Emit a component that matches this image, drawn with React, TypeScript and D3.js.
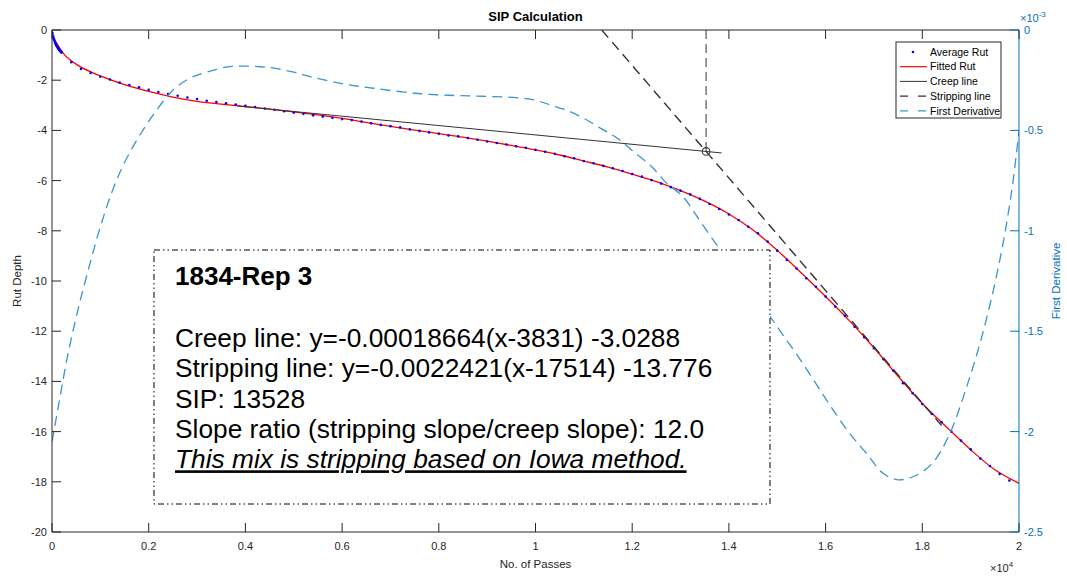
import React from 'react';
import * as d3 from 'd3';

const W = 1067;
const H = 576;

// ---- axis ticks ----
const xTicks = [0, 2000, 4000, 6000, 8000, 10000, 12000, 14000, 16000, 18000, 20000];
const xTickLabels = ['0', '0.2', '0.4', '0.6', '0.8', '1', '1.2', '1.4', '1.6', '1.8', '2'];
const yLeftTicks = [0, -2, -4, -6, -8, -10, -12, -14, -16, -18, -20];
const yRightTicks = [0, -0.5, -1, -1.5, -2, -2.5];
const yRightTickLabels = ['0', '-0.5', '-1', '-1.5', '-2', '-2.5'];

// ---- data: [passes, rut depth] ----
const avgRut: [number, number][] = [
  [0, 0], [10, -0.12], [20, -0.22], [30, -0.3], [40, -0.37], [50, -0.43], [60, -0.48], [70, -0.53],
  [80, -0.57], [90, -0.61], [100, -0.65], [110, -0.68], [120, -0.71], [130, -0.74], [140, -0.77],
  [150, -0.79], [160, -0.82], [170, -0.84], [180, -0.86], [190, -0.88], [200, -0.9],
  [400, -1.28], [600, -1.55], [800, -1.71], [1000, -1.86], [1200, -1.97], [1400, -2.09], [1600, -2.19],
  [1800, -2.28], [2000, -2.38], [2200, -2.47], [2400, -2.55], [2600, -2.62], [2800, -2.69], [3000, -2.75],
  [3200, -2.82], [3400, -2.87], [3600, -2.92], [3800, -2.97], [4000, -3.02], [4200, -3.07], [4400, -3.13],
  [4600, -3.18], [4800, -3.24], [5000, -3.29], [5200, -3.34], [5400, -3.4], [5600, -3.45], [5800, -3.5],
  [6000, -3.55], [6200, -3.59], [6400, -3.65], [6600, -3.72], [6800, -3.78], [7000, -3.83], [7200, -3.88],
  [7400, -3.96], [7600, -4.02], [7800, -4.08], [8000, -4.13], [8200, -4.2], [8400, -4.24], [8600, -4.3],
  [8800, -4.37], [9000, -4.44], [9200, -4.5], [9400, -4.56], [9600, -4.63], [9800, -4.69], [10000, -4.77],
  [10200, -4.85], [10400, -4.93], [10600, -5.03], [10800, -5.11], [11000, -5.22], [11200, -5.31],
  [11400, -5.41], [11600, -5.51], [11800, -5.62], [12000, -5.74], [12200, -5.84], [12400, -5.98],
  [12600, -6.12], [12800, -6.26], [13000, -6.4], [13200, -6.55], [13400, -6.73], [13600, -6.93],
  [13800, -7.13], [14000, -7.35], [14200, -7.57], [14400, -7.84], [14600, -8.1], [14800, -8.43],
  [15000, -8.79], [15200, -9.16], [15400, -9.5], [15600, -9.89], [15800, -10.23], [16000, -10.62],
  [16200, -11.02], [16400, -11.39], [16600, -11.82], [16800, -12.24], [17000, -12.68], [17200, -13.12],
  [17400, -13.57], [17600, -14.07], [17800, -14.47], [18000, -14.9], [18200, -15.3], [18400, -15.63],
  [18600, -16.0], [18800, -16.36], [19000, -16.71], [19200, -17.07], [19400, -17.37], [19600, -17.69],
  [19800, -17.95],
];

const fittedRut: [number, number][] = [
  [0, -0.2], [100, -0.53], [230, -0.92], [370, -1.19], [580, -1.46], [790, -1.66], [1000, -1.83],
  [1200, -1.98], [1500, -2.18], [2000, -2.45], [2500, -2.67], [3000, -2.84], [3500, -2.95], [4000, -3.05],
  [4500, -3.15], [5000, -3.26], [5500, -3.38], [6000, -3.52], [6500, -3.68], [7000, -3.84], [7500, -3.99],
  [8000, -4.13], [8500, -4.27], [9000, -4.43], [9500, -4.6], [10000, -4.78], [10500, -4.98], [11000, -5.22],
  [11500, -5.46], [12000, -5.74], [12500, -6.04], [13000, -6.4], [13500, -6.82], [14000, -7.33],
  [14500, -7.97], [15000, -8.78], [15500, -9.68], [16000, -10.62], [16500, -11.6], [17000, -12.66],
  [17500, -13.8], [18000, -14.88], [18500, -15.82], [19000, -16.72], [19500, -17.52], [20000, -18.06],
];

// first derivative, in units of 1e-3
const firstDeriv: [number, number][] = [
  [0, -2.05], [150, -1.85], [300, -1.65], [500, -1.43], [700, -1.24], [1000, -0.98], [1250, -0.8],
  [1500, -0.66], [1800, -0.53], [2100, -0.42], [2500, -0.3], [2850, -0.24], [3200, -0.21], [3600, -0.185],
  [3900, -0.18], [4300, -0.183], [4600, -0.19], [5000, -0.21], [5300, -0.23], [5950, -0.265], [6650, -0.29],
  [7500, -0.315], [8200, -0.325], [8900, -0.33], [9600, -0.337], [10000, -0.35], [10300, -0.373],
  [10650, -0.4], [11000, -0.44], [11350, -0.49], [11700, -0.54], [12000, -0.6], [12400, -0.68],
  [12700, -0.76], [13050, -0.83], [13400, -0.95], [13750, -1.07], [14100, -1.18], [14450, -1.3],
  [14800, -1.41], [15150, -1.53], [15500, -1.65], [15850, -1.78], [16150, -1.89], [16500, -2.01],
  [16850, -2.11], [17200, -2.21], [17500, -2.24], [17850, -2.22], [18200, -2.16], [18550, -2.02],
  [18900, -1.79], [19250, -1.51], [19600, -1.15], [19850, -0.8], [20000, -0.5],
];

// line equations from the annotation
const creepSlope = -0.00018664;
const creepX0 = 3831;
const creepY0 = -3.0288;
const creepRange = [3831, 13850];
const stripSlope = -0.0022421;
const stripX0 = 17514;
const stripY0 = -13.776;
const stripRange = [11370, 18400];
const sipX = 13528;

const annoTitle = '1834-Rep 3';
const annoLines = [
  'Creep line: y=-0.00018664(x-3831) -3.0288',
  'Stripping line: y=-0.0022421(x-17514) -13.776',
  'SIP: 13528',
  'Slope ratio (stripping slope/creep slope): 12.0',
];
const annoConclusion = 'This mix is stripping based on Iowa method.';

const legendItems = ['Average Rut', 'Fitted Rut', 'Creep line', 'Stripping line', 'First Derivative'];

const FONT = '"Liberation Sans", Arial, Helvetica, sans-serif';
const AX = '#262626';
const BLUE_AX = '#0072BD';
const BLUE_LINE = '#3d95c9';

export default function App() {
  const left = 52, right = 1019, top = 30, bottom = 532;
  const x = d3.scaleLinear().domain([0, 20000]).range([left, right]);
  const yL = d3.scaleLinear().domain([-20, 0]).range([bottom, top]);
  const yR = d3.scaleLinear().domain([-2.5, 0]).range([bottom, top]);

  const lineL = d3.line<[number, number]>().x(d => x(d[0])).y(d => yL(d[1])).curve(d3.curveCatmullRom);
  const lineR = d3.line<[number, number]>().x(d => x(d[0])).y(d => yR(d[1])).curve(d3.curveCatmullRom);
  const straight = d3.line<[number, number]>().x(d => x(d[0])).y(d => yL(d[1]));

  const creepPts: [number, number][] = creepRange.map(v => [v, creepSlope * (v - creepX0) + creepY0]);
  const stripPts: [number, number][] = stripRange.map(v => [v, stripSlope * (v - stripX0) + stripY0]);
  const sipY = creepSlope * (sipX - creepX0) + creepY0;

  const tl = 9;
  const lgX = 896, lgY = 42, lgW = 105, lgH = 76;
  const lgRow = (i: number) => lgY + 10 + i * 14.7;

  return (
    <svg width={W} height={H} style={{ position: 'absolute', left: 0, top: 0, background: '#fff' }} fontFamily={FONT}>
      <rect x={0} y={0} width={W} height={H} fill="#fff" />
      <defs>
        <clipPath id="plot">
          <rect x={left} y={top} width={right - left} height={bottom - top} />
        </clipPath>
      </defs>

      {/* title */}
      <text x={(left + right) / 2} y={21} textAnchor="middle" fontSize={13} fontWeight="bold" fill="#000">SIP Calculation</text>

      <g clipPath="url(#plot)">
        {/* fitted */}
        <path d={lineL(fittedRut) || ''} fill="none" stroke="#ff0000" strokeWidth={1.3} />
        {/* avg dots */}
        {avgRut.map((d, i) => (
          <circle key={i} cx={x(d[0])} cy={yL(d[1])} r={1.3} fill="#0000ff" />
        ))}
        {/* creep line */}
        <path d={straight(creepPts) || ''} fill="none" stroke="#333" strokeWidth={1} />
        {/* stripping line */}
        <path d={straight(stripPts) || ''} fill="none" stroke="#333" strokeWidth={1.4} strokeDasharray="10,6" />
        {/* SIP vertical */}
        <line x1={x(sipX)} x2={x(sipX)} y1={yL(0)} y2={yL(sipY)} stroke="#333" strokeWidth={1} strokeDasharray="9,5" />
        <circle cx={x(sipX)} cy={yL(sipY)} r={3.8} fill="none" stroke="#333" strokeWidth={1.1} />
        {/* derivative */}
        <path d={lineR(firstDeriv) || ''} fill="none" stroke={BLUE_LINE} strokeWidth={1.3} strokeDasharray="10,6" />
      </g>

      {/* axes box */}
      <line x1={left} x2={right} y1={top} y2={top} stroke={AX} strokeWidth={1} />
      <line x1={left} x2={right} y1={bottom} y2={bottom} stroke={AX} strokeWidth={1} />
      <line x1={left} x2={left} y1={top} y2={bottom} stroke={AX} strokeWidth={1} />
      <line x1={right} x2={right} y1={top} y2={bottom} stroke={BLUE_AX} strokeWidth={1} />

      {/* x ticks */}
      {xTicks.map((t, i) => (
        <g key={'x' + i}>
          <line x1={x(t)} x2={x(t)} y1={bottom} y2={bottom - tl} stroke={AX} />
          <line x1={x(t)} x2={x(t)} y1={top} y2={top + tl} stroke={AX} />
          <text x={x(t)} y={bottom + 18} textAnchor="middle" fontSize={11} fill={AX}>{xTickLabels[i]}</text>
        </g>
      ))}
      <text x={990} y={572} fontSize={11} fill={AX}>×10<tspan dy={-5} fontSize={8}>4</tspan></text>
      <text x={(left + right) / 2} y={568} textAnchor="middle" fontSize={11.5} fill={AX}>No. of Passes</text>

      {/* left y ticks */}
      {yLeftTicks.map((t, i) => (
        <g key={'yl' + i}>
          <line x1={left} x2={left + tl} y1={yL(t)} y2={yL(t)} stroke={AX} />
          <text x={left - 5} y={yL(t) + 4} textAnchor="end" fontSize={11} fill={AX}>{t}</text>
        </g>
      ))}
      <text transform={`translate(21,${(top + bottom) / 2}) rotate(-90)`} textAnchor="middle" fontSize={11.5} fill={AX}>Rut Depth</text>

      {/* right y ticks */}
      {yRightTicks.map((t, i) => (
        <g key={'yr' + i}>
          <line x1={right} x2={right - tl} y1={yR(t)} y2={yR(t)} stroke={BLUE_AX} />
          <text x={right + 5} y={yR(t) + 4} fontSize={11} fill={BLUE_AX}>{yRightTickLabels[i]}</text>
        </g>
      ))}
      <text x={1020} y={22} fontSize={11} fill={BLUE_AX}>×10<tspan dy={-5} fontSize={8}>-3</tspan></text>
      <text transform={`translate(1060,${(top + bottom) / 2}) rotate(-90)`} textAnchor="middle" fontSize={11.5} fill={BLUE_AX}>First Derivative</text>

      {/* annotation box */}
      <rect x={154} y={250} width={616} height={254} fill="#fff" stroke="#000" strokeWidth={1} strokeDasharray="6,3,1.5,3,1.5,3" />
      <text x={175} y={285} fontSize={26} fontWeight="bold" fill="#000">{annoTitle}</text>
      {annoLines.map((s, i) => (
        <text key={'a' + i} x={175} y={346.7 + i * 30.4} fontSize={26.3} fill="#000">{s}</text>
      ))}
      <text x={175} y={346.7 + 4 * 30.4} fontSize={26.3} fontStyle="italic" textDecoration="underline" fill="#000">{annoConclusion}</text>

      {/* legend */}
      <rect x={lgX} y={lgY} width={lgW} height={lgH} fill="#fff" stroke={AX} strokeWidth={1} />
      {legendItems.map((s, i) => {
        const yy = lgRow(i);
        return (
          <g key={'lg' + i}>
            {i === 0 && <circle cx={913} cy={yy} r={1.3} fill="#0000ff" />}
            {i === 1 && <line x1={900} x2={927} y1={yy} y2={yy} stroke="#ff0000" strokeWidth={1.2} />}
            {i === 2 && <line x1={900} x2={927} y1={yy} y2={yy} stroke="#333" strokeWidth={1} />}
            {i === 3 && <line x1={900} x2={927} y1={yy} y2={yy} stroke="#333" strokeWidth={1.3} strokeDasharray="8,10" />}
            {i === 4 && <line x1={900} x2={927} y1={yy} y2={yy} stroke={BLUE_LINE} strokeWidth={1.3} strokeDasharray="8,10" />}
            <text x={930} y={yy + 3.7} fontSize={10.5} fill="#000">{s}</text>
          </g>
        );
      })}
    </svg>
  );
}
